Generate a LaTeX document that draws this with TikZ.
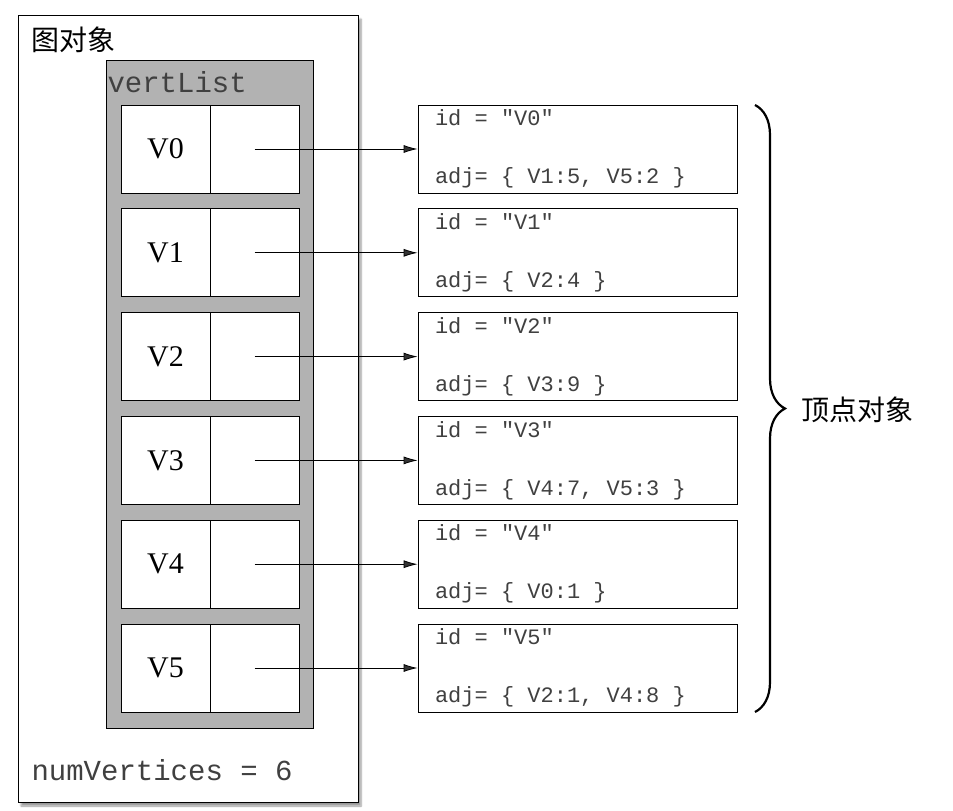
\documentclass[tikz,border=0pt]{standalone}
\usepackage{fontspec}
\setmonofont{Liberation Mono}
\setmainfont{Liberation Serif}
\newfontfamily\cjk{Noto Sans CJK SC}
\usetikzlibrary{arrows.meta,decorations.pathreplacing,shadows.blur}
\newcommand{\ms}{\hbox to 0.6em{}}
\begin{document}
\begin{tikzpicture}
    [
        x = 1pt, y = -1pt,
        cell/.style = {draw, fill = white, line width = 0.8pt, minimum height = 88pt, inner sep = 0pt},
        vbox/.style = {draw, fill = white, line width = 0.8pt, minimum width = 319pt, minimum height = 88pt,
            inner xsep = 17pt, text width = 285pt, align = left, text = black!75,
            font = \fontsize{22}{28}\selectfont\ttfamily},
        link/.style = {-{Latex[length = 14pt, width = 8pt]}, line width = 0.8pt}
    ]
    \useasboundingbox (0,0) rectangle (953,811);

    % graph object
    \draw[fill = white, line width = 1pt, blur shadow = {shadow xshift = 3pt, shadow yshift = -4pt, shadow blur steps = 6}]
        (18,15) rectangle (358,802);
    \node[anchor = west, font = \fontsize{28}{30}\cjk] (title) at (28,40) {图对象};
    \draw[fill = black!30, line width = 0.8pt] (106,60) rectangle (313,728);
    \node[anchor = west, font = \fontsize{29}{30}\ttfamily, text = black!75] (vl) at (104,82) {vertList};
    \node[anchor = west, font = \fontsize{29}{30}\ttfamily, text = black!75] (nv) at (28,770) {numVertices\ms=\ms6};

    % vertex list and objects
    \foreach \i/\adj in {0/{V1:5,\ms V5:2}, 1/{V2:4}, 2/{V3:9}, 3/{V4:7,\ms V5:3}, 4/{V0:1}, 5/{V2:1,\ms V4:8}} {
        \pgfmathsetmacro{\yy}{149 + 103.8*\i}
        \node[cell, minimum width = 89pt, font = \fontsize{30}{32}\selectfont] (k\i) at (165.5,\yy) {V\i};
        \node[cell, minimum width = 89pt] (p\i) at (254.5,\yy) {};
        \node[vbox] (v\i) at (577.5,\yy) {id\ms=\ms"V\i"\\[2pt]\ms adj=\ms\{\ms\adj\ms\}};
        \draw[link] (p\i.center) -- (v\i.west);
    }

    % brace
    \coordinate (bt) at (755,105);
    \coordinate (bb) at (755,712);
    \draw[decorate, decoration = {brace, amplitude = 30pt}, line width = 2.2pt] (bt) -- (bb);
    \node[anchor = west, font = \fontsize{28}{30}\cjk] (vo) at (798,410) {顶点对象};
\end{tikzpicture}
\end{document}
